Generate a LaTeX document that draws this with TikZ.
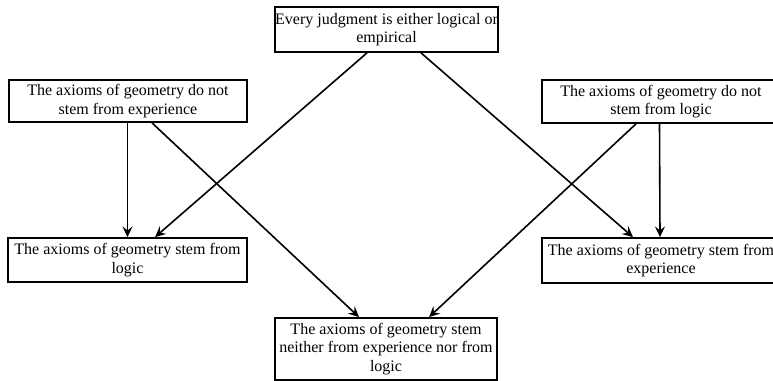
\documentclass[tikz,border=0pt]{standalone}
\usepackage{fontspec}
\setmainfont{Liberation Serif}
\usepackage{tikz}
\usetikzlibrary{arrows.meta,calc}
\tikzset{
  font={\fontsize{12pt}{14pt}\selectfont}}
\tikzset{
  claim/.style={draw=black,line width=1.3pt,align=center,inner sep=0pt},
  infer/.style={-{Stealth[length=8pt,width=7.5pt,inset=3pt]},line width=1.2pt}}

\begin{document}
\begin{tikzpicture}[x=0.75pt,y=-0.75pt]
\useasboundingbox (0,0) rectangle (773,381);
\node [claim,minimum width=221*0.75pt,minimum height=45*0.75pt] (judg) at (386.5,29.5) {Every judgment is either logical or\\empirical};
\node [claim,minimum width=238*0.75pt,minimum height=42*0.75pt] (noexp) at (128,101) {The axioms of geometry do not\\stem from experience};
\node [claim,minimum width=238*0.75pt,minimum height=43*0.75pt] (nolog) at (661,101.5) {The axioms of geometry do not\\stem from logic};
\node [claim,minimum width=239*0.75pt,minimum height=44*0.75pt] (logic) at (127.5,260) {The axioms of geometry stem from\\logic};
\node [claim,minimum width=238*0.75pt,minimum height=45*0.75pt] (exper) at (661,260.5) {The axioms of geometry stem from\\experience};
\node [claim,minimum width=222*0.75pt,minimum height=62*0.75pt] (neither) at (386,349) {The axioms of geometry stem\\neither from experience nor from\\logic};
% from the top claim
\draw [infer] ($(judg.south)+(-19.5,0)$) -- ($(logic.north)+(27.5,0)$);
\draw [infer] ($(judg.south)+(34.5,0)$) -- ($(exper.north)+(-28,0)$);
% left side
\draw [infer] ($(noexp.south)+(-0.5,0)$) -- (logic.north);
\draw [infer] ($(noexp.south)+(24,0)$) -- ($(neither.north)+(-27,0)$);
% right side
\draw [infer] ($(nolog.south)+(-1.5,0)$) -- ($(exper.north)+(-1,0)$);
\draw [infer] ($(nolog.south)+(-25,0)$) -- ($(neither.north)+(43,0)$);
\end{tikzpicture}
\end{document}
